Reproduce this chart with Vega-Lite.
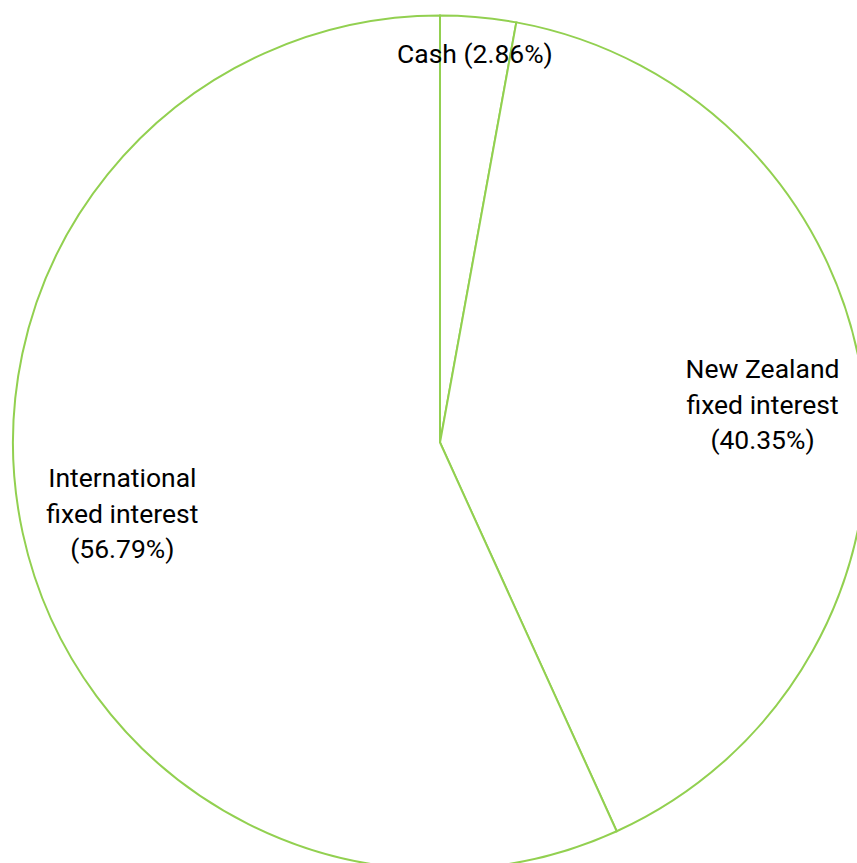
{
  "$schema": "https://vega.github.io/schema/vega-lite/v6.json",
  "width": 834,
  "height": 841,
  "autosize": "none",
  "padding": {"left": 23, "top": 22, "right": 0, "bottom": 0},
  "background": "white",
  "view": {"stroke": null},
  "data": {
    "values": [
      {"category": "Cash", "value": 2.86, "label": "Cash (2.86%)"},
      {"category": "New Zealand fixed interest", "value": 40.35, "label": "New Zealand\nfixed interest\n(40.35%)"},
      {"category": "International fixed interest", "value": 56.79, "label": "International\nfixed interest\n(56.79%)"}
    ]
  },
  "encoding": {
    "theta": {"field": "value", "type": "quantitative", "stack": true},
    "order": {"field": "value", "type": "quantitative", "sort": "ascending"}
  },
  "layer": [
    {
      "mark": {"type": "arc", "outerRadius": 427, "fill": "white", "stroke": "#92D050", "strokeWidth": 2}
    },
    {
      "mark": {"type": "text", "radius": 389, "font": "Roboto", "fontSize": 26.5, "color": "black", "align": "center", "baseline": "middle", "lineBreak": "\n", "lineHeight": 35},
      "encoding": {"text": {"condition": {"test": "datum.category === 'Cash'", "field": "label"}, "value": ""}}
    },
    {
      "mark": {"type": "text", "radius": 325, "dy": -32, "font": "Roboto", "fontSize": 26.5, "color": "black", "align": "center", "baseline": "middle", "lineBreak": "\n", "lineHeight": 35.5},
      "encoding": {"text": {"condition": {"test": "datum.category !== 'Cash'", "field": "label"}, "value": ""}}
    }
  ]
}
